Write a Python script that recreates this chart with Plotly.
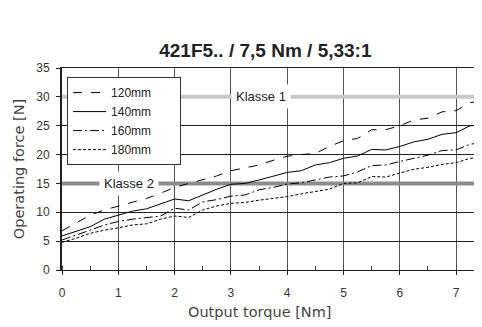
import plotly.graph_objects as go

# Output torque [Nm]
torque = [0, 0.25, 0.5, 0.75, 1, 1.25, 1.5, 1.75, 2, 2.25, 2.5, 2.75, 3, 3.25, 3.5, 3.75,
          4, 4.25, 4.5, 4.75, 5, 5.25, 5.5, 5.75, 6, 6.25, 6.5, 6.75, 7, 7.25, 7.5]

# Operating force [N] per stroke length
force_120 = [6.8, 8.2, 9.5, 10.4, 11.1, 11.7, 12.4, 13.3, 14.3, 15.0, 15.6, 16.3, 17.2, 17.7, 18.2, 19.0,
             19.7, 20.0, 20.2, 21.4, 22.4, 22.8, 24.3, 24.3, 25.0, 26.0, 26.3, 27.4, 27.6, 29.0, 29.4]
force_140 = [5.9, 6.7, 7.5, 8.8, 9.5, 10.2, 10.6, 11.4, 12.3, 12.0, 13.0, 14.0, 14.85, 15.0, 15.6, 16.3,
             16.9, 17.2, 18.2, 18.6, 19.35, 19.75, 20.9, 20.8, 21.4, 22.2, 22.65, 23.5, 23.8, 25.0, 25.1]
force_160 = [5.2, 6.0, 6.9, 7.8, 8.4, 8.8, 9.1, 9.35, 10.7, 10.4, 11.8, 12.2, 12.8, 13.0, 13.9, 14.3,
             14.9, 15.1, 15.6, 16.1, 16.3, 17.0, 18.1, 18.2, 18.8, 19.35, 19.9, 20.7, 20.8, 21.8, 22.1]
force_180 = [4.8, 5.5, 6.35, 6.9, 7.3, 7.8, 8.0, 8.8, 9.35, 9.1, 10.4, 11.1, 11.55, 11.7, 12.1, 12.4,
             12.7, 13.2, 13.6, 14.0, 15.0, 15.1, 16.2, 16.1, 16.8, 17.45, 17.8, 18.3, 18.6, 19.35, 19.6]

series = [
    ("120mm", force_120, "dash"),
    ("140mm", force_140, "solid"),
    ("160mm", force_160, "9px,3px,2px,3px"),
    ("180mm", force_180, "3px,2px"),
]

# class limits
klasse_names = ["Klasse 1", "Klasse 2"]
klasse_force = [30, 15]
klasse_label_x = [3.54, 1.19]
klasse_colors = ["#c8c8c8", "#8c8c8c"]

FONT = "Liberation Sans, Arial, sans-serif"
AXIS_FONT = "DejaVu Sans, sans-serif"

fig = go.Figure()

for name, y, dash in series:
    fig.add_trace(
        go.Scatter(
            x=torque,
            y=y,
            # trailing no-break spaces widen the legend box like the original
            name=name + "\u00a0" * 7,
            mode="lines",
            line=dict(color="black", width=1, dash=dash),
        )
    )

for name, yv, lx, col in zip(klasse_names, klasse_force, klasse_label_x, klasse_colors):
    fig.add_shape(
        type="line", xref="x", yref="y", x0=0, x1=7.5, y0=yv, y1=yv,
        line=dict(color=col, width=4), layer="between",
    )
    fig.add_annotation(
        x=lx, y=yv, xref="x", yref="y", text=name, showarrow=False,
        bgcolor="white", font=dict(family=FONT, size=13, color="#222"), borderpad=4,
    )

# x title sits a little left of the plot centre in the original
fig.add_annotation(
    text="Output torque [Nm]", xref="paper", yref="paper", x=0.471, y=-0.208,
    xanchor="center", yanchor="middle", showarrow=False,
    font=dict(family=AXIS_FONT, size=14.5, color="#444"),
)

# page body adds an 8px offset, so the figure is drawn 8px smaller
fig.update_layout(
    width=474,
    height=319,
    margin=dict(l=54, r=0, t=60, b=57),
    paper_bgcolor="white",
    plot_bgcolor="white",
    font=dict(family=FONT, size=12, color="#333"),
    title=dict(
        text="<b>421F5.. / 7,5 Nm / 5,33:1</b>",
        x=0.543, xanchor="center", y=0.868, yanchor="middle",
        font=dict(family=FONT, size=19, color="#222"),
    ),
    showlegend=True,
    legend=dict(
        x=0.012, y=0.955, xanchor="left", yanchor="top",
        bgcolor="white", bordercolor="#333", borderwidth=1,
        font=dict(family=FONT, size=12, color="#222"),
        tracegroupgap=0, itemwidth=33,
    ),
    xaxis=dict(
        range=[0, 7.46],
        automargin=False,
        tickvals=[0, 1, 2, 3, 4, 5, 6, 7],
        showgrid=True, gridcolor="#555", gridwidth=1,
        showline=True, linecolor="#222", linewidth=1, mirror=True,
        ticks="outside", ticklen=4, tickcolor="#222",
        minor=dict(dtick=0.5, ticks="inside", ticklen=4, tickcolor="#444", showgrid=False),
        ticklabelstandoff=8,
        zeroline=False,
    ),
    yaxis=dict(
        range=[0, 35],
        automargin=False,
        tickvals=[0, 5, 10, 15, 20, 25, 30, 35],
        showgrid=True, gridcolor="#222", gridwidth=1,
        showline=True, linecolor="#222", linewidth=2,
        ticks="outside", ticklen=4, tickcolor="#222",
        ticklabelstandoff=4,
        zeroline=False,
        title=dict(text="Operating force [N]", font=dict(family=AXIS_FONT, size=14.5, color="#444"), standoff=8),
    ),
)

fig.write_html("out.html")
